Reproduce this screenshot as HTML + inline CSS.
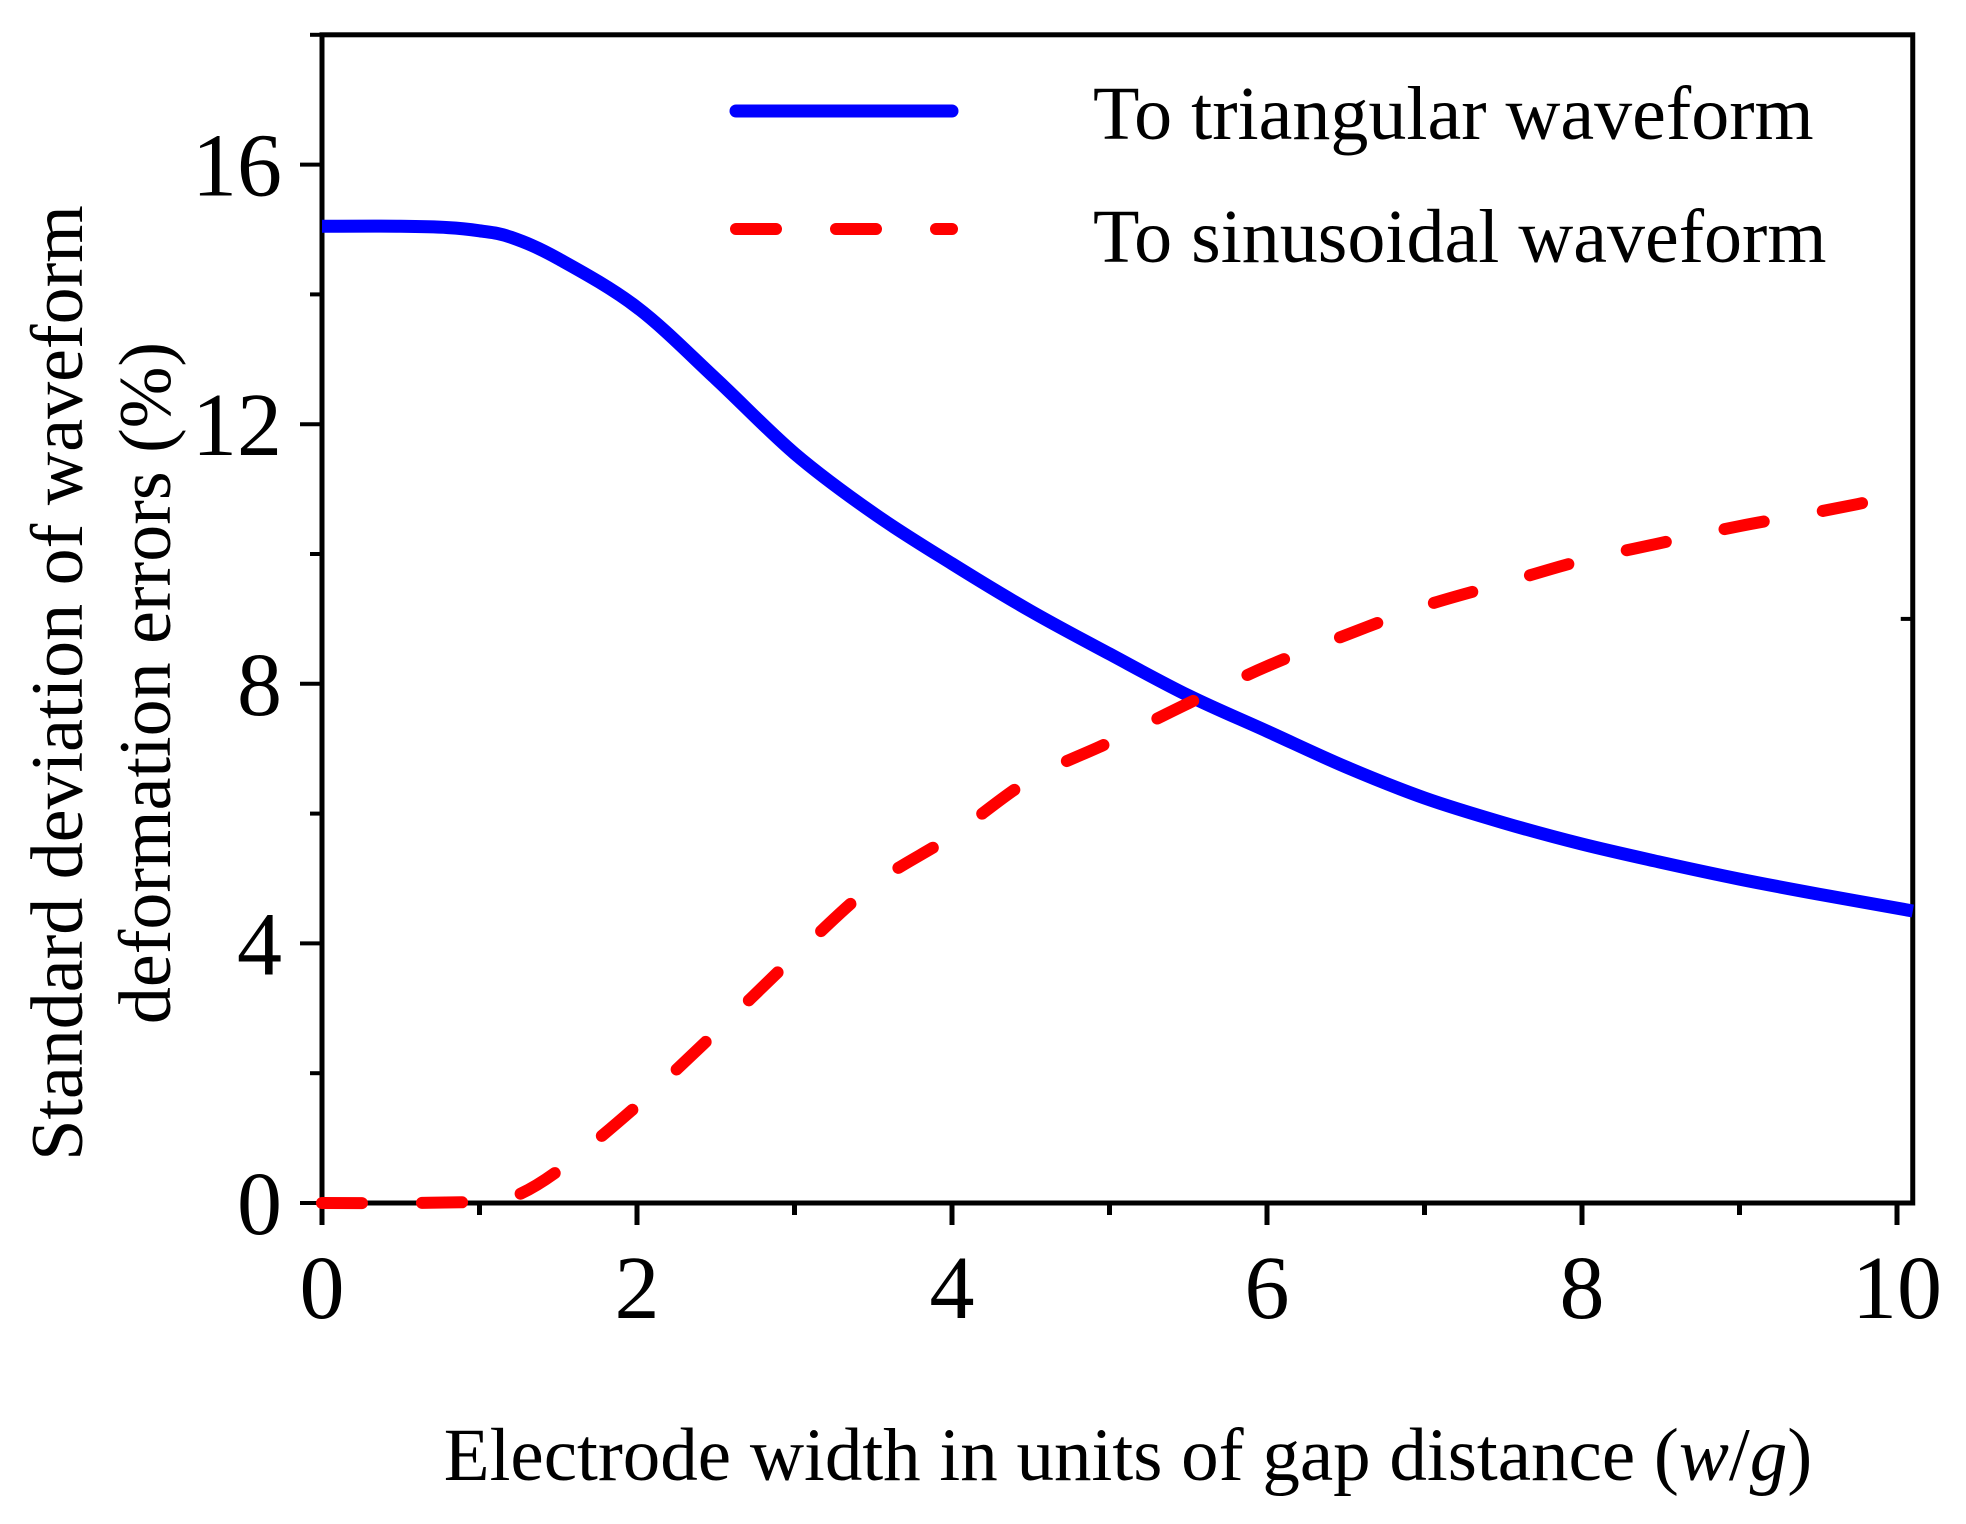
<!DOCTYPE html>
<html><head><meta charset="utf-8"><style>
html,body{margin:0;padding:0;background:#fff;}
svg text{font-family:"Liberation Serif",serif;fill:#000;}
</style></head><body>
<svg id="chart" width="1966" height="1519" viewBox="0 0 1966 1519" xmlns="http://www.w3.org/2000/svg">
<g id="axes"></g>
<g id="series"></g>
<g id="legend">
  <line x1="736" y1="111" x2="952" y2="111" stroke="#0000ff" stroke-width="13" stroke-linecap="round"/>
  <text x="1093" y="139" font-size="76">To triangular waveform</text>
  <line x1="736" y1="229" x2="952" y2="229" stroke="#ff0000" stroke-width="12" stroke-linecap="round" stroke-dasharray="40 60"/>
  <text x="1093" y="262" font-size="76">To sinusoidal waveform</text>
</g>
<text x="1128" y="1480" font-size="75" text-anchor="middle">Electrode width in units of gap distance (<tspan font-style="italic">w</tspan>/<tspan font-style="italic">g</tspan>)</text>
<g transform="translate(0,683) rotate(-90)">
  <text x="0" y="82" font-size="74" text-anchor="middle">Standard deviation of waveform</text>
  <text x="0" y="170" font-size="74" text-anchor="middle">deformation errors (%)</text>
</g>
</svg>
<script>
const xTicks = [0, 2, 4, 6, 8, 10];
const yTicks = [0, 4, 8, 12, 16];
const triX = [0, 0.5, 0.8, 1, 1.2, 1.5, 2, 2.5, 3, 3.5, 4, 4.5, 5, 5.5, 6, 6.5, 7, 7.5, 8, 8.5, 9, 9.5, 10.1];
const triY = [15.05, 15.05, 15.03, 14.98, 14.88, 14.55, 13.8, 12.7, 11.55, 10.63, 9.85, 9.12, 8.46, 7.82, 7.27, 6.72, 6.24, 5.86, 5.53, 5.25, 4.99, 4.76, 4.5];
const sinX = [0, 0.5, 1, 1.2, 1.5, 2, 2.5, 3, 3.5, 4, 4.5, 5, 5.5, 6, 6.5, 7, 7.5, 8, 8.5, 9, 9.5, 10.1];
const sinY = [0, 0, 0.02, 0.08, 0.5, 1.5, 2.63, 3.8, 4.9, 5.66, 6.53, 7.1, 7.7, 8.27, 8.75, 9.2, 9.55, 9.9, 10.17, 10.43, 10.65, 10.94];

const X0 = 322, XS = 157.5, Y0 = 1203, YS = 64.9;
const xMax = 10.1, yMax = 18;
function sx(v){ return X0 + v*XS; }
function sy(v){ return Y0 - v*YS; }
const NS = 'http://www.w3.org/2000/svg';
const axes = document.getElementById('axes');
const series = document.getElementById('series');
function mk(tag, attrs, parent){
  const e = document.createElementNS(NS, tag);
  for (const k in attrs) e.setAttribute(k, attrs[k]);
  parent.appendChild(e); return e;
}
const frame = mk('rect', {x:sx(0), y:sy(yMax), width:sx(xMax)-sx(0), height:sy(0)-sy(yMax), fill:'none', stroke:'#000', 'stroke-width':5}, axes);


for (let v = 0; v <= 10; v++) {
  const major = v % 2 === 0;
  const t = mk('line', {x1:sx(v), x2:sx(v), y1:sy(0), y2:sy(0)+(major?22:12), stroke:'#000', 'stroke-width':5}, axes);
  
  
}
xTicks.forEach(v => {
  const t = mk('text', {x:sx(v), y:1318, 'font-size':90, 'text-anchor':'middle'}, axes);
  t.textContent = v;
  
  
});
for (let v = 0; v <= 18; v += 2) {
  const major = v % 4 === 0;
  const t = mk('line', {x1:sx(0)-(major?22:12), x2:sx(0), y1:sy(v), y2:sy(v), stroke:'#000', 'stroke-width':4}, axes);
  
  
}
const rt = mk('line', {x1:sx(xMax)-12, x2:sx(xMax), y1:sy(9), y2:sy(9), stroke:'#000', 'stroke-width':4}, axes);


yTicks.forEach(v => {
  const t = mk('text', {x:282, y:sy(v)+31, 'font-size':90, 'text-anchor':'end'}, axes);
  t.textContent = v;
  
  
});
function pathFrom(xs, ys){
  const p = xs.map((x,i)=>[sx(x), sy(ys[i])]);
  let d = 'M' + p[0][0].toFixed(1) + ' ' + p[0][1].toFixed(1);
  for (let i = 0; i < p.length-1; i++) {
    const p0 = p[Math.max(0,i-1)], p1 = p[i], p2 = p[i+1], p3 = p[Math.min(p.length-1,i+2)];
    const c1x = p1[0] + (p2[0]-p0[0])/6, c1y = p1[1] + (p2[1]-p0[1])/6;
    const c2x = p2[0] - (p3[0]-p1[0])/6, c2y = p2[1] - (p3[1]-p1[1])/6;
    d += ' C' + c1x.toFixed(1)+' '+c1y.toFixed(1)+' '+c2x.toFixed(1)+' '+c2y.toFixed(1)+' '+p2[0].toFixed(1)+' '+p2[1].toFixed(1);
  }
  return d;
}
const pt = mk('path', {d:pathFrom(triX, triY), fill:'none', stroke:'#0000ff', 'stroke-width':13, 'stroke-linejoin':'round'}, series);


const ps = mk('path', {d:pathFrom(sinX, sinY), fill:'none', stroke:'#ff0000', 'stroke-width':12, 'stroke-linecap':'round', 'stroke-dasharray':'40 60'}, series);


</script>
</body></html>
